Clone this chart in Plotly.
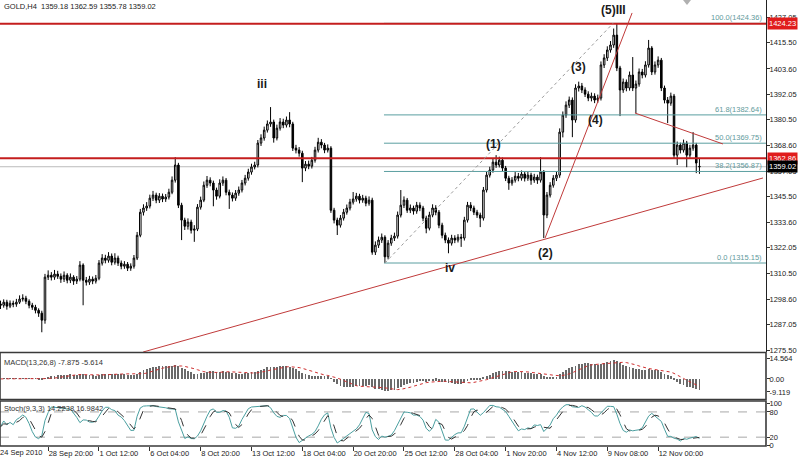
import numpy as np
import pandas as pd
import plotly.graph_objects as go

# ---------------- data (GOLD H4) ----------------
opens = [
    1296.5, 1295.9, 1297.3, 1295.5, 1296.8, 1296.4, 1297.3, 1298.7, 1299.1, 1297.7,
    1295.9, 1295.0, 1293.6, 1292.3, 1289.1, 1308.7, 1309.6, 1308.7, 1310.1, 1309.1,
    1307.8, 1309.6, 1307.3, 1308.7, 1306.9, 1307.8, 1314.2, 1307.3, 1306.4, 1307.8,
    1306.9, 1308.2, 1315.1, 1317.4, 1316.4, 1318.3, 1315.5, 1317.4, 1315.1, 1313.7,
    1314.6, 1312.8, 1313.7, 1317.4, 1327.8, 1338.3, 1340.2, 1341.1, 1344.7, 1346.1,
    1343.8, 1345.6, 1344.3, 1345.2, 1347.4, 1352.9, 1359.8, 1341.5, 1334.7, 1331.9,
    1333.8, 1330.1, 1330.6, 1340.6, 1343.8, 1350.6, 1352.9, 1351.6, 1348.4, 1345.6,
    1351.6, 1352.9, 1347.4, 1346.1, 1344.7, 1347.0, 1348.4, 1351.6, 1353.8, 1356.6,
    1358.9, 1359.8, 1369.8, 1372.1, 1375.7, 1378.5, 1379.4, 1372.1, 1376.6, 1379.4,
    1378.0, 1380.3, 1378.5, 1367.5, 1366.6, 1365.2, 1358.4, 1360.2, 1359.3, 1362.0,
    1366.6, 1370.2, 1368.9, 1366.6, 1367.5, 1339.2, 1334.7, 1332.4, 1335.6, 1338.3,
    1340.2, 1342.9, 1344.3, 1345.6, 1343.8, 1344.7, 1342.4, 1343.8, 1320.1, 1323.3,
    1325.6, 1326.9, 1318.0, 1324.2, 1326.5, 1327.4, 1337.0, 1341.5, 1343.8, 1339.2,
    1340.2, 1338.8, 1341.5, 1340.2, 1335.6, 1331.0, 1337.0, 1340.2, 1338.3, 1332.4,
    1327.8, 1325.6, 1324.2, 1326.5, 1325.6, 1326.9, 1326.5, 1334.7, 1341.5, 1340.2,
    1338.3, 1337.0, 1335.6, 1348.4, 1355.2, 1357.5, 1361.1, 1359.8, 1362.0, 1358.4,
    1353.8, 1351.6, 1352.9, 1354.7, 1353.8, 1355.7, 1353.8, 1355.2, 1352.9, 1354.3,
    1352.9, 1356.6, 1337.0, 1346.1, 1350.6, 1353.8, 1355.2, 1374.8, 1382.6, 1387.1,
    1389.4, 1380.3, 1394.9, 1395.8, 1394.0, 1392.1, 1390.3, 1391.2, 1389.4, 1390.3,
    1405.4, 1408.6, 1412.2, 1414.5, 1419.0, 1404.0, 1394.0, 1397.6, 1394.9, 1400.8,
    1394.9, 1396.7, 1402.2, 1400.8, 1405.4, 1413.1, 1402.2, 1405.4, 1407.6, 1394.9,
    1389.4, 1388.0, 1391.2, 1364.3, 1368.9, 1366.6, 1369.8, 1364.3, 1367.5, 1368.9,
    1359.18]

highs = [
    1298.0, 1298.6, 1298.4, 1298.1, 1298.0, 1298.8, 1300.4, 1300.9, 1300.2, 1298.6,
    1297.0, 1296.1, 1294.5, 1293.4, 1310.2, 1311.8, 1311.0, 1312.0, 1311.6, 1310.4,
    1311.3, 1310.5, 1310.4, 1309.6, 1309.2, 1316.0, 1315.0, 1308.8, 1309.3, 1309.0,
    1309.7, 1316.5, 1319.2, 1318.9, 1320.1, 1319.5, 1319.6, 1318.5, 1316.3, 1316.0,
    1315.6, 1315.0, 1318.8, 1329.3, 1339.8, 1341.9, 1342.9, 1346.3, 1348.0, 1347.2,
    1347.0, 1346.8, 1346.6, 1349.0, 1354.6, 1363.4, 1360.8, 1342.6, 1335.8, 1335.5,
    1334.9, 1332.4, 1342.0, 1345.4, 1352.3, 1354.8, 1354.2, 1352.7, 1349.5, 1353.3,
    1354.6, 1353.9, 1348.6, 1347.3, 1348.4, 1350.0, 1353.0, 1355.3, 1358.1, 1360.4,
    1361.3, 1371.2, 1373.8, 1377.3, 1380.1, 1386.2, 1380.5, 1378.2, 1381.2, 1380.9,
    1381.9, 1383.9, 1379.5, 1369.0, 1368.0, 1366.3, 1361.6, 1361.8, 1363.5, 1368.1,
    1372.2, 1371.6, 1369.9, 1369.2, 1368.4, 1340.3, 1335.8, 1337.0, 1339.8, 1341.8,
    1344.4, 1347.5, 1347.1, 1346.7, 1346.2, 1345.8, 1345.5, 1344.9, 1325.0, 1327.2,
    1328.6, 1327.8, 1325.6, 1328.0, 1329.0, 1338.6, 1348.4, 1345.5, 1344.8, 1341.8,
    1341.3, 1343.0, 1342.8, 1341.2, 1336.7, 1338.5, 1341.9, 1341.5, 1339.3, 1333.5,
    1329.0, 1326.8, 1328.0, 1327.8, 1328.3, 1328.4, 1336.2, 1343.0, 1342.9, 1341.3,
    1339.4, 1338.1, 1349.8, 1356.7, 1359.0, 1362.6, 1364.3, 1363.6, 1363.2, 1359.4,
    1354.9, 1354.3, 1356.6, 1356.2, 1357.3, 1356.9, 1356.7, 1356.3, 1355.8, 1355.4,
    1363.4, 1357.5, 1347.5, 1352.0, 1355.2, 1356.9, 1376.5, 1384.2, 1388.8, 1391.0,
    1390.6, 1396.6, 1397.8, 1397.2, 1395.2, 1393.4, 1392.8, 1392.5, 1391.9, 1407.0,
    1410.3, 1413.9, 1416.3, 1422.0, 1424.23, 1405.0, 1399.2, 1398.8, 1402.4, 1409.0,
    1398.3, 1403.8, 1403.6, 1407.1, 1416.8, 1414.0, 1407.0, 1409.3, 1408.6, 1396.0,
    1390.8, 1392.8, 1392.2, 1370.5, 1370.0, 1371.4, 1370.8, 1369.0, 1374.8, 1369.9,
    1362.59]

lows = [
    1294.2, 1294.8, 1293.9, 1294.6, 1295.0, 1295.2, 1296.5, 1297.6, 1296.4, 1294.5,
    1293.8, 1292.2, 1290.6, 1283.6, 1287.5, 1307.4, 1307.2, 1307.5, 1307.9, 1306.1,
    1306.5, 1305.9, 1306.0, 1305.2, 1305.6, 1306.8, 1295.9, 1304.9, 1305.2, 1305.5,
    1305.8, 1307.3, 1314.0, 1315.0, 1315.3, 1314.1, 1314.4, 1313.8, 1312.3, 1312.5,
    1311.5, 1311.6, 1312.6, 1316.5, 1326.9, 1336.8, 1338.9, 1340.0, 1343.4, 1342.4,
    1342.5, 1342.9, 1343.0, 1344.1, 1346.5, 1351.8, 1340.2, 1325.6, 1330.2, 1330.4,
    1328.6, 1324.8, 1329.7, 1339.5, 1342.9, 1349.4, 1350.1, 1341.0, 1344.0, 1344.6,
    1350.3, 1346.0, 1339.8, 1343.2, 1343.5, 1345.8, 1347.3, 1350.5, 1352.7, 1355.4,
    1357.8, 1358.7, 1368.5, 1370.9, 1374.6, 1377.2, 1370.0, 1371.0, 1375.5, 1376.6,
    1376.9, 1377.0, 1366.2, 1365.1, 1363.6, 1352.0, 1357.0, 1357.9, 1358.2, 1360.9,
    1365.5, 1367.4, 1365.2, 1365.5, 1338.0, 1333.2, 1327.9, 1331.3, 1334.5, 1337.2,
    1339.1, 1341.8, 1343.1, 1342.3, 1342.6, 1341.0, 1341.3, 1318.9, 1318.8, 1322.0,
    1324.3, 1315.15, 1316.8, 1323.0, 1325.2, 1326.3, 1335.9, 1340.2, 1338.0, 1337.9,
    1337.2, 1337.6, 1338.8, 1334.2, 1328.7, 1330.0, 1336.0, 1336.9, 1331.0, 1326.4,
    1324.2, 1319.6, 1323.1, 1324.2, 1324.5, 1322.5, 1325.4, 1333.6, 1338.8, 1337.0,
    1335.7, 1331.5, 1334.5, 1347.3, 1354.1, 1356.3, 1358.5, 1358.7, 1357.0, 1352.5,
    1348.5, 1350.4, 1351.8, 1352.4, 1352.7, 1352.3, 1352.6, 1350.8, 1351.7, 1351.2,
    1351.8, 1326.5, 1335.6, 1345.0, 1349.5, 1352.5, 1354.0, 1372.4, 1381.3, 1385.8,
    1372.5, 1379.1, 1393.3, 1392.6, 1390.8, 1388.9, 1388.8, 1388.0, 1388.1, 1389.2,
    1404.0, 1407.2, 1411.0, 1413.2, 1402.6, 1382.1, 1392.7, 1393.4, 1393.7, 1393.5,
    1383.5, 1395.5, 1399.3, 1399.7, 1404.2, 1400.8, 1401.0, 1404.1, 1393.5, 1387.9,
    1378.9, 1386.8, 1363.0, 1359.8, 1365.1, 1365.5, 1358.8, 1363.1, 1366.3, 1356.1,
    1355.78]

closes = [
    1295.9, 1297.3, 1295.5, 1296.8, 1296.4, 1297.3, 1298.7, 1299.1, 1297.7, 1295.9,
    1295.0, 1293.6, 1292.3, 1289.1, 1308.7, 1309.6, 1308.7, 1310.1, 1309.1, 1307.8,
    1309.6, 1307.3, 1308.7, 1306.9, 1307.8, 1314.2, 1307.3, 1306.4, 1307.8, 1306.9,
    1308.2, 1315.1, 1317.4, 1316.4, 1318.3, 1315.5, 1317.4, 1315.1, 1313.7, 1314.6,
    1312.8, 1313.7, 1317.4, 1327.8, 1338.3, 1340.2, 1341.1, 1344.7, 1346.1, 1343.8,
    1345.6, 1344.3, 1345.2, 1347.4, 1352.9, 1359.8, 1341.5, 1334.7, 1331.9, 1333.8,
    1330.1, 1330.6, 1340.6, 1343.8, 1350.6, 1352.9, 1351.6, 1348.4, 1345.6, 1351.6,
    1352.9, 1347.4, 1346.1, 1344.7, 1347.0, 1348.4, 1351.6, 1353.8, 1356.6, 1358.9,
    1359.8, 1369.8, 1372.1, 1375.7, 1378.5, 1379.4, 1372.1, 1376.6, 1379.4, 1378.0,
    1380.3, 1378.5, 1367.5, 1366.6, 1365.2, 1358.4, 1360.2, 1359.3, 1362.0, 1366.6,
    1370.2, 1368.9, 1366.6, 1367.5, 1339.2, 1334.7, 1332.4, 1335.6, 1338.3, 1340.2,
    1342.9, 1344.3, 1345.6, 1343.8, 1344.7, 1342.4, 1343.8, 1320.1, 1323.3, 1325.6,
    1326.9, 1318.0, 1324.2, 1326.5, 1327.4, 1337.0, 1341.5, 1343.8, 1339.2, 1340.2,
    1338.8, 1341.5, 1340.2, 1335.6, 1331.0, 1337.0, 1340.2, 1338.3, 1332.4, 1327.8,
    1325.6, 1324.2, 1326.5, 1325.6, 1326.9, 1326.5, 1334.7, 1341.5, 1340.2, 1338.3,
    1337.0, 1335.6, 1348.4, 1355.2, 1357.5, 1361.1, 1359.8, 1362.0, 1358.4, 1353.8,
    1351.6, 1352.9, 1354.7, 1353.8, 1355.7, 1353.8, 1355.2, 1352.9, 1354.3, 1352.9,
    1356.6, 1337.0, 1346.1, 1350.6, 1353.8, 1355.2, 1374.8, 1382.6, 1387.1, 1389.4,
    1380.3, 1394.9, 1395.8, 1394.0, 1392.1, 1390.3, 1391.2, 1389.4, 1390.3, 1405.4,
    1408.6, 1412.2, 1414.5, 1419.0, 1404.0, 1394.0, 1397.6, 1394.9, 1400.8, 1394.9,
    1396.7, 1402.2, 1400.8, 1405.4, 1413.1, 1402.2, 1405.4, 1407.6, 1394.9, 1389.4,
    1388.0, 1391.2, 1364.3, 1368.9, 1366.6, 1369.8, 1364.3, 1367.5, 1368.9, 1360.7,
    1359.02]

# time axis labels (bar index -> label)
tick_bars = [15, 31, 47, 63, 79, 95, 111, 127, 143, 159, 175, 191, 207]
tick_labels = ["28 Sep 20:00", "1 Oct 12:00", "6 Oct 04:00", "8 Oct 20:00", "13 Oct 12:00",
               "18 Oct 04:00", "20 Oct 20:00", "25 Oct 12:00", "28 Oct 04:00", "1 Nov 20:00",
               "4 Nov 12:00", "9 Nov 08:00", "12 Nov 00:00"]
first_label = "24 Sep 2010"

# price scale labels
price_ticks = [1427.05, 1415.50, 1403.60, 1392.05, 1380.50, 1368.60, 1357.05,
               1345.50, 1333.60, 1322.05, 1310.50, 1298.60, 1287.05, 1275.50]
macd_ticks = [14.564, 0.0, -9.119]
macd_tick_text = ["14.564", "0.00", "-9.119"]
stoch_ticks = [100, 80, 20, 0]

# Fibonacci retracement
fib_start_bar = 120.7
fib_levels = ["0.0 ", "38.2", "50.0", "61.8", "100.0"]
fib_prices = [1315.15, 1356.87, 1369.75, 1382.64, 1424.36]

# horizontal levels
red_levels = [1424.23, 1362.86]
bid_price = 1359.02

# trend lines (bar, price) -> (bar, price)
trend_x0 = [44.9, 171.4, 199.7]
trend_y0 = [1274.6, 1326.5, 1383.5]
trend_x1 = [240.0, 198.8, 227.4]
trend_y1 = [1353.9, 1429.1, 1369.4]
fib_diag = [121.0, 1315.15, 192.8, 1424.36]

# Elliott wave labels
wave_text = ["(5)III", "(3)", "(4)", "(1)", "(2)", "iv", "iii"]
wave_x = [192.8, 181.8, 187.4, 155.3, 171.7, 141.5, 82.3]
wave_y = [1430.3, 1404.5, 1380.3, 1369.4, 1319.7, 1312.9, 1396.7]

title_text = "GOLD,H4  1359.18 1362.59 1355.78 1359.02"
macd_text = "MACD(13,26,8) -7.875 -5.614"
stoch_text = "Stoch(9,3,3) 14.2238 16.9842"

# ---------------- indicators from the price data ----------------
c = pd.Series(closes)
h = pd.Series(highs)
l = pd.Series(lows)
ema13 = c.ewm(span=13, adjust=False).mean()
ema26 = c.ewm(span=26, adjust=False).mean()
macd_main = ema13 - ema26
macd_sig = macd_main.rolling(8, min_periods=1).mean()
hh = h.rolling(9, min_periods=1).max()
ll = l.rolling(9, min_periods=1).min()
k_line = 100 * (c - ll).rolling(3, min_periods=1).sum() / (hh - ll).rolling(3, min_periods=1).sum()
d_line = k_line.rolling(3, min_periods=1).mean()

bars = list(range(len(closes)))

# ---------------- layout geometry ----------------
W, H = 800, 464
ML, MR, MT, MB = 0, 34, 0, 18
PH = H - MT - MB
PW = W - ML - MR


def py(px):
    return 1 - (px - MT) / PH


FONT = "Liberation Sans"
XR = [-0.16, 240.95]

fig = go.Figure()
fig.add_trace(go.Candlestick(
    x=bars, open=opens, high=highs, low=lows, close=closes,
    xaxis="x", yaxis="y", whiskerwidth=0,
    increasing=dict(line=dict(color="#000000", width=1), fillcolor="#ffffff"),
    decreasing=dict(line=dict(color="#000000", width=1), fillcolor="#000000"),
    hoverinfo="skip"))
fig.add_trace(go.Bar(x=bars, y=macd_main, xaxis="x2", yaxis="y2", width=0.28,
                     marker=dict(color="#6a6a6a", line=dict(width=0)), hoverinfo="skip"))
fig.add_trace(go.Scatter(x=bars, y=macd_sig, xaxis="x2", yaxis="y2", mode="lines",
                         line=dict(color="#d03030", width=1, dash="dot"), hoverinfo="skip"))
fig.add_trace(go.Scatter(x=bars, y=k_line, xaxis="x3", yaxis="y3", mode="lines",
                         line=dict(color="#4a9fa0", width=1), hoverinfo="skip"))
fig.add_trace(go.Scatter(x=bars, y=d_line, xaxis="x3", yaxis="y3", mode="lines",
                         line=dict(color="#333333", width=1, dash="dash"), hoverinfo="skip"))

shapes = []
for p in fib_prices:
    shapes.append(dict(type="line", xref="x", yref="y", x0=fib_start_bar, x1=XR[1], y0=p, y1=p,
                       line=dict(color="#5a9ea0", width=1), layer="above"))
shapes.append(dict(type="line", xref="paper", yref="y", x0=0, x1=1, y0=bid_price, y1=bid_price,
                   line=dict(color="#bcbcbc", width=1), layer="below"))
for p in red_levels:
    shapes.append(dict(type="line", xref="paper", yref="y", x0=0, x1=1, y0=p, y1=p,
                       line=dict(color="#c41e1e", width=2), layer="above"))
for a, b, cc, d in zip(trend_x0, trend_y0, trend_x1, trend_y1):
    shapes.append(dict(type="line", xref="x", yref="y", x0=a, y0=b, x1=cc, y1=d,
                       line=dict(color="#c03a3a", width=1), layer="above"))
shapes.append(dict(type="line", xref="x", yref="y", x0=fib_diag[0], y0=fib_diag[1],
                   x1=fib_diag[2], y1=fib_diag[3],
                   line=dict(color="#9a9a9a", width=1, dash="dot"), layer="above"))
for lv in (80, 20):
    shapes.append(dict(type="line", xref="paper", yref="y3", x0=0, x1=1, y0=lv, y1=lv,
                       line=dict(color="#a8a8a8", width=1, dash="dash"), layer="below"))
shapes.append(dict(type="rect", xref="paper", yref="paper", x0=0, x1=1, y0=py(399.5), y1=py(352.5),
                   line=dict(color="#3a3a3a", width=1.6)))
shapes.append(dict(type="rect", xref="paper", yref="paper", x0=0, x1=1, y0=py(446), y1=py(401),
                   line=dict(color="#3a3a3a", width=1.6)))
shapes.append(dict(type="path", xref="paper", yref="paper",
                   path="M %f %f L %f %f L %f %f Z" % (683 / PW, py(0), 691 / PW, py(0), 687 / PW, py(5)),
                   fillcolor="#b0b0b0", line=dict(width=0)))

ann = []
ann.append(dict(text=title_text, xref="paper", yref="paper", x=0.003, y=py(6), xanchor="left",
                yanchor="middle", showarrow=False, font=dict(family=FONT, size=7.5, color="#222")))
ann.append(dict(text=macd_text, xref="paper", yref="paper", x=0.003, y=py(362), xanchor="left",
                yanchor="middle", showarrow=False, font=dict(family=FONT, size=7.5, color="#333")))
ann.append(dict(text=stoch_text, xref="paper", yref="paper", x=0.003, y=py(408), xanchor="left",
                yanchor="middle", showarrow=False, font=dict(family=FONT, size=7.5, color="#333")))
for lv, p in zip(fib_levels, fib_prices):
    ann.append(dict(text="%s(%.2f)" % (lv, p), xref="paper", yref="y", x=0.998, y=p,
                    xanchor="right", yanchor="bottom", showarrow=False, yshift=-1,
                    font=dict(family=FONT, size=7.5, color="#5f9a9c")))
for t, x, y in zip(wave_text, wave_x, wave_y):
    ann.append(dict(text="<b>%s</b>" % t, xref="x", yref="y", x=x, y=y, showarrow=False,
                    font=dict(family=FONT, size=12, color="#1a1a1a")))
for p, bg in ((red_levels[0], "#e01c1c"), (red_levels[1], "#e01c1c"), (bid_price, "#000000")):
    ann.append(dict(text="%.2f" % p, xref="paper", yref="y", x=1, y=p, xanchor="left",
                    yanchor="middle", xshift=1, showarrow=False, bgcolor=bg, borderpad=1,
                    font=dict(family=FONT, size=7.5, color="#ffffff")))
ann.append(dict(text=first_label, xref="paper", yref="paper", x=0, y=py(453), xanchor="left",
                yanchor="middle", xshift=-2, showarrow=False,
                font=dict(family=FONT, size=7.5, color="#222")))

axis_common = dict(range=XR, showgrid=False, zeroline=False, fixedrange=True)
tickfont = dict(family=FONT, size=7.5, color="#222")
yax_common = dict(side="right", ticks="outside", ticklen=3, tickcolor="#333", showgrid=False,
                  zeroline=False, tickfont=tickfont, fixedrange=True, ticklabelstandoff=-2,
                  automargin=False)

fig.update_layout(
    width=W, height=H, margin=dict(l=ML, r=MR, t=MT, b=MB),
    paper_bgcolor="#ffffff", plot_bgcolor="#ffffff", showlegend=False,
    bargap=0, hovermode=False,
    xaxis=dict(domain=[0, 1], anchor="y", showticklabels=False, rangeslider=dict(visible=False),
               **axis_common),
    xaxis2=dict(domain=[0, 1], anchor="y2", showticklabels=False, matches="x", **axis_common),
    xaxis3=dict(domain=[0, 1], anchor="y3", matches="x", tickmode="array", tickvals=tick_bars,
                ticktext=tick_labels, ticks="outside", ticklen=4, tickcolor="#333", tickangle=0,
                ticklabelposition="outside right", tickfont=tickfont, automargin=False,
                **axis_common),
    yaxis=dict(domain=[py(352), 1], anchor="x", range=[1274.6, 1435.0],
               tickmode="array", tickvals=price_ticks, ticktext=["%.2f" % v for v in price_ticks],
               showline=True, linecolor="#222", linewidth=1, **yax_common),
    yaxis2=dict(domain=[py(400), py(353)], anchor="x2", range=[-14.7, 18.05],
                tickmode="array", tickvals=macd_ticks, ticktext=macd_tick_text, **yax_common),
    yaxis3=dict(domain=[0, py(401)], anchor="x3", range=[-1, 106],
                tickmode="array", tickvals=stoch_ticks, **yax_common),
    shapes=shapes, annotations=ann,
)

fig.write_html("out.html", config={"displayModeBar": False},
               post_script="document.body.style.margin='0';document.body.style.overflow='hidden';")
